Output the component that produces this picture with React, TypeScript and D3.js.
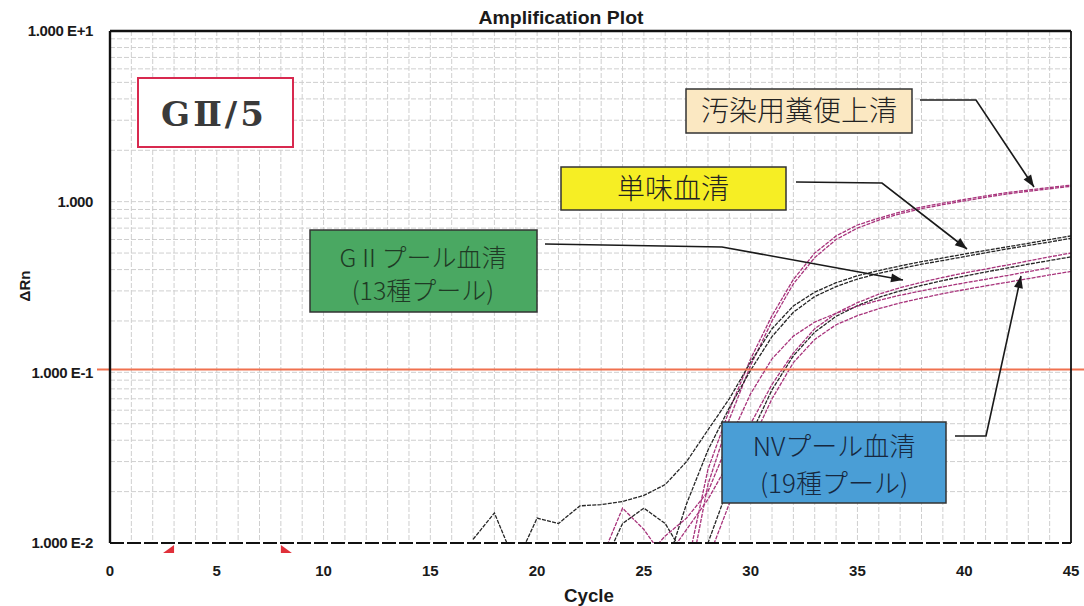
import React from 'react';
import * as d3 from 'd3';

// cycles 17..45, null = not drawn
const cycles = d3.range(17, 46);

const pad = (start: number, vals: number[]) =>
  cycles.map(c => (c < start ? null : vals[c - start] ?? null));

// 汚染用糞便上清
const fecesA = pad(27, [0.007, 0.027, 0.06, 0.12, 0.215, 0.35, 0.5, 0.63, 0.73, 0.8, 0.87, 0.93, 0.98, 1.03, 1.08, 1.13, 1.17, 1.21, 1.25]);
const fecesB = pad(27, [0.005, 0.022, 0.053, 0.11, 0.2, 0.33, 0.47, 0.6, 0.7, 0.78, 0.85, 0.91, 0.96, 1.01, 1.06, 1.11, 1.15, 1.19, 1.23]);
// 単味血清
const singleA = pad(17, [0.0105, 0.015, 0.0075, 0.014, 0.013, 0.0165, 0.0168, 0.0175, 0.019, 0.022, 0.03, 0.046, 0.07, 0.115, 0.18, 0.245, 0.295, 0.335, 0.368, 0.395, 0.42, 0.445, 0.468, 0.493, 0.518, 0.543, 0.57, 0.6, 0.63]);
const singleB = pad(26, [0.007, 0.017, 0.035, 0.062, 0.103, 0.162, 0.225, 0.278, 0.318, 0.352, 0.38, 0.405, 0.43, 0.452, 0.476, 0.502, 0.528, 0.554, 0.58, 0.61]);
// GII プール血清
const g2PoolA = pad(23, [0.008, 0.016, 0.012, 0.008, 0.012, 0.018, 0.03, 0.05, 0.085, 0.13, 0.18, 0.222, 0.256, 0.287, 0.313, 0.337, 0.36, 0.382, 0.403, 0.425, 0.45, 0.475, 0.5]);
const g2PoolB = pad(23, [0.007, 0.013, 0.016, 0.013, 0.008, 0.01, 0.022, 0.043, 0.079, 0.125, 0.172, 0.213, 0.246, 0.275, 0.3, 0.323, 0.345, 0.366, 0.387, 0.408, 0.43, 0.452, 0.475]);
// NV プール血清
const nvPoolA = pad(25, [0.008, 0.011, 0.014, 0.02, 0.04, 0.075, 0.12, 0.163, 0.197, 0.222, 0.244, 0.264, 0.283, 0.3, 0.317, 0.334, 0.351, 0.369, 0.389, 0.41]);
const nvPoolB = pad(27, [0.006, 0.008, 0.017, 0.038, 0.07, 0.114, 0.156, 0.19, 0.215, 0.236, 0.255, 0.272, 0.289, 0.305, 0.321, 0.337, 0.354, 0.372, 0.39]);

const MAGENTA = '#a8347c';
const BLACK = '#262626';
const series = [
  { vals: fecesA, color: MAGENTA },
  { vals: fecesB, color: MAGENTA },
  { vals: singleA, color: BLACK },
  { vals: singleB, color: BLACK },
  { vals: g2PoolA, color: MAGENTA },
  { vals: g2PoolB, color: BLACK },
  { vals: nvPoolA, color: MAGENTA },
  { vals: nvPoolB, color: MAGENTA },
];

const yTicks = [10, 1, 0.1, 0.01];
const yTickLabels = ['1.000 E+1', '1.000', '1.000 E-1', '1.000 E-2'];
const xTicks = [0, 5, 10, 15, 20, 25, 30, 35, 40, 45];
const threshold = 0.104;
const baselineStart = 3;
const baselineEnd = 8;

const W = 1084, H = 606;
const L = 110, R = 1071, T = 31, B = 543;

export default function App() {
  const x = d3.scaleLinear().domain([0, 45]).range([L, R]);
  const y = d3.scaleLog().domain([0.01, 10]).range([B, T]);

  const line = d3.line<number | null>()
    .defined(d => d != null)
    .x((_, i) => x(cycles[i]))
    .y(d => y(d as number));

  const minorY: number[] = [];
  [0.01, 0.1, 1].forEach(dec => {
    for (let k = 2; k <= 9; k++) minorY.push(dec * k);
  });

  const arrow = (pts: [number, number][]) => {
    const p = pts.map(q => q.join(',')).join(' ');
    const [x1, y1] = pts[pts.length - 2];
    const [x2, y2] = pts[pts.length - 1];
    const a = Math.atan2(y2 - y1, x2 - x1);
    const len = 12, w = 4.5;
    const bx = x2 - len * Math.cos(a), by = y2 - len * Math.sin(a);
    const head = [
      [x2, y2],
      [bx + w * Math.sin(a), by - w * Math.cos(a)],
      [bx - w * Math.sin(a), by + w * Math.cos(a)],
    ].map(q => q.join(',')).join(' ');
    return (
      <g>
        <polyline points={p} fill="none" stroke="#1a1a1a" strokeWidth={1.6} />
        <polygon points={head} fill="#1a1a1a" />
      </g>
    );
  };

  const jp = '"Noto Sans CJK JP", sans-serif';
  const sans = 'Liberation Sans, Arial, sans-serif';

  return (
    <svg width={W} height={H} style={{ display: 'block', position: 'absolute', left: 0, top: 0, background: '#fff' }}>
      <defs>
        <clipPath id="plot">
          <rect x={L} y={T} width={R - L} height={B - T} />
        </clipPath>
      </defs>

      {/* grid */}
      <g stroke="#cfcfcf" strokeWidth={1} strokeDasharray="5,2">
        {d3.range(1, 45).map(c => (
          <line key={'v' + c} x1={x(c)} x2={x(c)} y1={T} y2={B} />
        ))}
        {minorY.map(v => (
          <line key={'h' + v} x1={L} x2={R} y1={y(v)} y2={y(v)} />
        ))}
        {[1, 0.1].map(v => (
          <line key={'m' + v} x1={L} x2={R} y1={y(v)} y2={y(v)} />
        ))}
      </g>

      {/* curves */}
      <g clipPath="url(#plot)" fill="none">
        {series.map((s, i) => (
          <path key={i} d={line(s.vals) || ''} stroke={s.color} strokeWidth={1.3} strokeDasharray="4,1.2" />
        ))}
      </g>

      {/* threshold */}
      <line x1={97} x2={W} y1={y(threshold)} y2={y(threshold)} stroke="#f0714f" strokeWidth={2} />

      {/* frame */}
      <line x1={L} x2={R} y1={T} y2={T} stroke="#111" strokeWidth={2.4} />
      <line x1={R} x2={R} y1={T} y2={B} stroke="#111" strokeWidth={1.8} />
      <line x1={L} x2={L} y1={T} y2={B} stroke="#111" strokeWidth={2.4} />
      <line x1={L} x2={R} y1={B} y2={B} stroke="#111" strokeWidth={2.2} strokeDasharray="14,3" />

      {/* baseline markers */}
      <polygon points={`${x(baselineStart) - 11},${B + 10} ${x(baselineStart)},${B + 10} ${x(baselineStart)},${B + 2}`} fill="#e0303a" />
      <polygon points={`${x(baselineEnd)},${B + 2} ${x(baselineEnd)},${B + 10} ${x(baselineEnd) + 11},${B + 10}`} fill="#e0303a" />

      {/* axis labels */}
      <g fontFamily={sans} fontWeight="bold" fontSize={15} fill="#1a1a1a">
        {yTicks.map((v, i) => (
          <text key={v} x={93} y={y(v)} dy="0.35em" textAnchor="end" letterSpacing={-0.4}>{yTickLabels[i]}</text>
        ))}
        {xTicks.map(v => (
          <text key={v} x={x(v)} y={576} textAnchor="middle">{v}</text>
        ))}
      </g>
      <text x={561} y={24} textAnchor="middle" fontFamily={sans} fontWeight="bold" fontSize={18} fill="#1a1a1a" textLength={165} lengthAdjust="spacingAndGlyphs">Amplification Plot</text>
      <text x={589} y={602} textAnchor="middle" fontFamily={sans} fontWeight="bold" fontSize={18} fill="#1a1a1a" textLength={50} lengthAdjust="spacingAndGlyphs">Cycle</text>
      <text transform="translate(30,286) rotate(-90)" textAnchor="middle" fontFamily={sans} fontWeight="bold" fontSize={15} fill="#1a1a1a">ΔRn</text>

      {/* GⅡ/5 */}
      <rect x={138} y={78} width={155} height={69} fill="#fff" stroke="#d8294f" strokeWidth={2} />
      <text x={214} y={114} dy="0.36em" textAnchor="middle" fontFamily="DejaVu Serif, serif" fontWeight="bold" fontSize={34} fill="#3a3a3a" letterSpacing={3}>GⅡ/5</text>

      {/* 汚染用糞便上清 */}
      <rect x={686} y={89} width={226} height={44} fill="#fbe8c2" stroke="#333" strokeWidth={1.5} />
      <text x={799} y={111} dy="0.36em" textAnchor="middle" fontFamily={jp} fontWeight={300} fontSize={28} fill="#222">汚染用糞便上清</text>
      {arrow([[920, 100], [976, 100], [1034, 187]])}

      {/* 単味血清 */}
      <rect x={561} y={167} width={225} height={43} fill="#f6ee24" stroke="#333" strokeWidth={1.5} />
      <text x={673} y={189} dy="0.36em" textAnchor="middle" fontFamily={jp} fontWeight={300} fontSize={28} fill="#222">単味血清</text>
      {arrow([[796, 182], [882, 183], [967, 249]])}

      {/* GII プール血清 */}
      <rect x={310} y={230} width={227} height={82} fill="#4aa862" stroke="#333" strokeWidth={1.5} />
      <text x={423} y={258} dy="0.36em" textAnchor="middle" fontFamily={jp} fontWeight={300} fontSize={25} fill="#1f3a25">GⅡプール血清</text>
      <text x={423} y={291} dy="0.36em" textAnchor="middle" fontFamily={jp} fontWeight={300} fontSize={25} fill="#1f3a25">(13種プール)</text>
      {arrow([[545, 244], [722, 247], [903, 280]])}

      {/* NV プール血清 */}
      <rect x={722} y={422} width={224} height={81} fill="#4a9ed6" stroke="#333" strokeWidth={1.5} />
      <text x={834} y={447} dy="0.36em" textAnchor="middle" fontFamily={jp} fontWeight={300} fontSize={26} fill="#17283f">NVプール血清</text>
      <text x={834} y={484} dy="0.36em" textAnchor="middle" fontFamily={jp} fontWeight={300} fontSize={26} fill="#17283f">(19種プール)</text>
      {arrow([[955, 436], [986, 436], [1021, 276]])}
    </svg>
  );
}
